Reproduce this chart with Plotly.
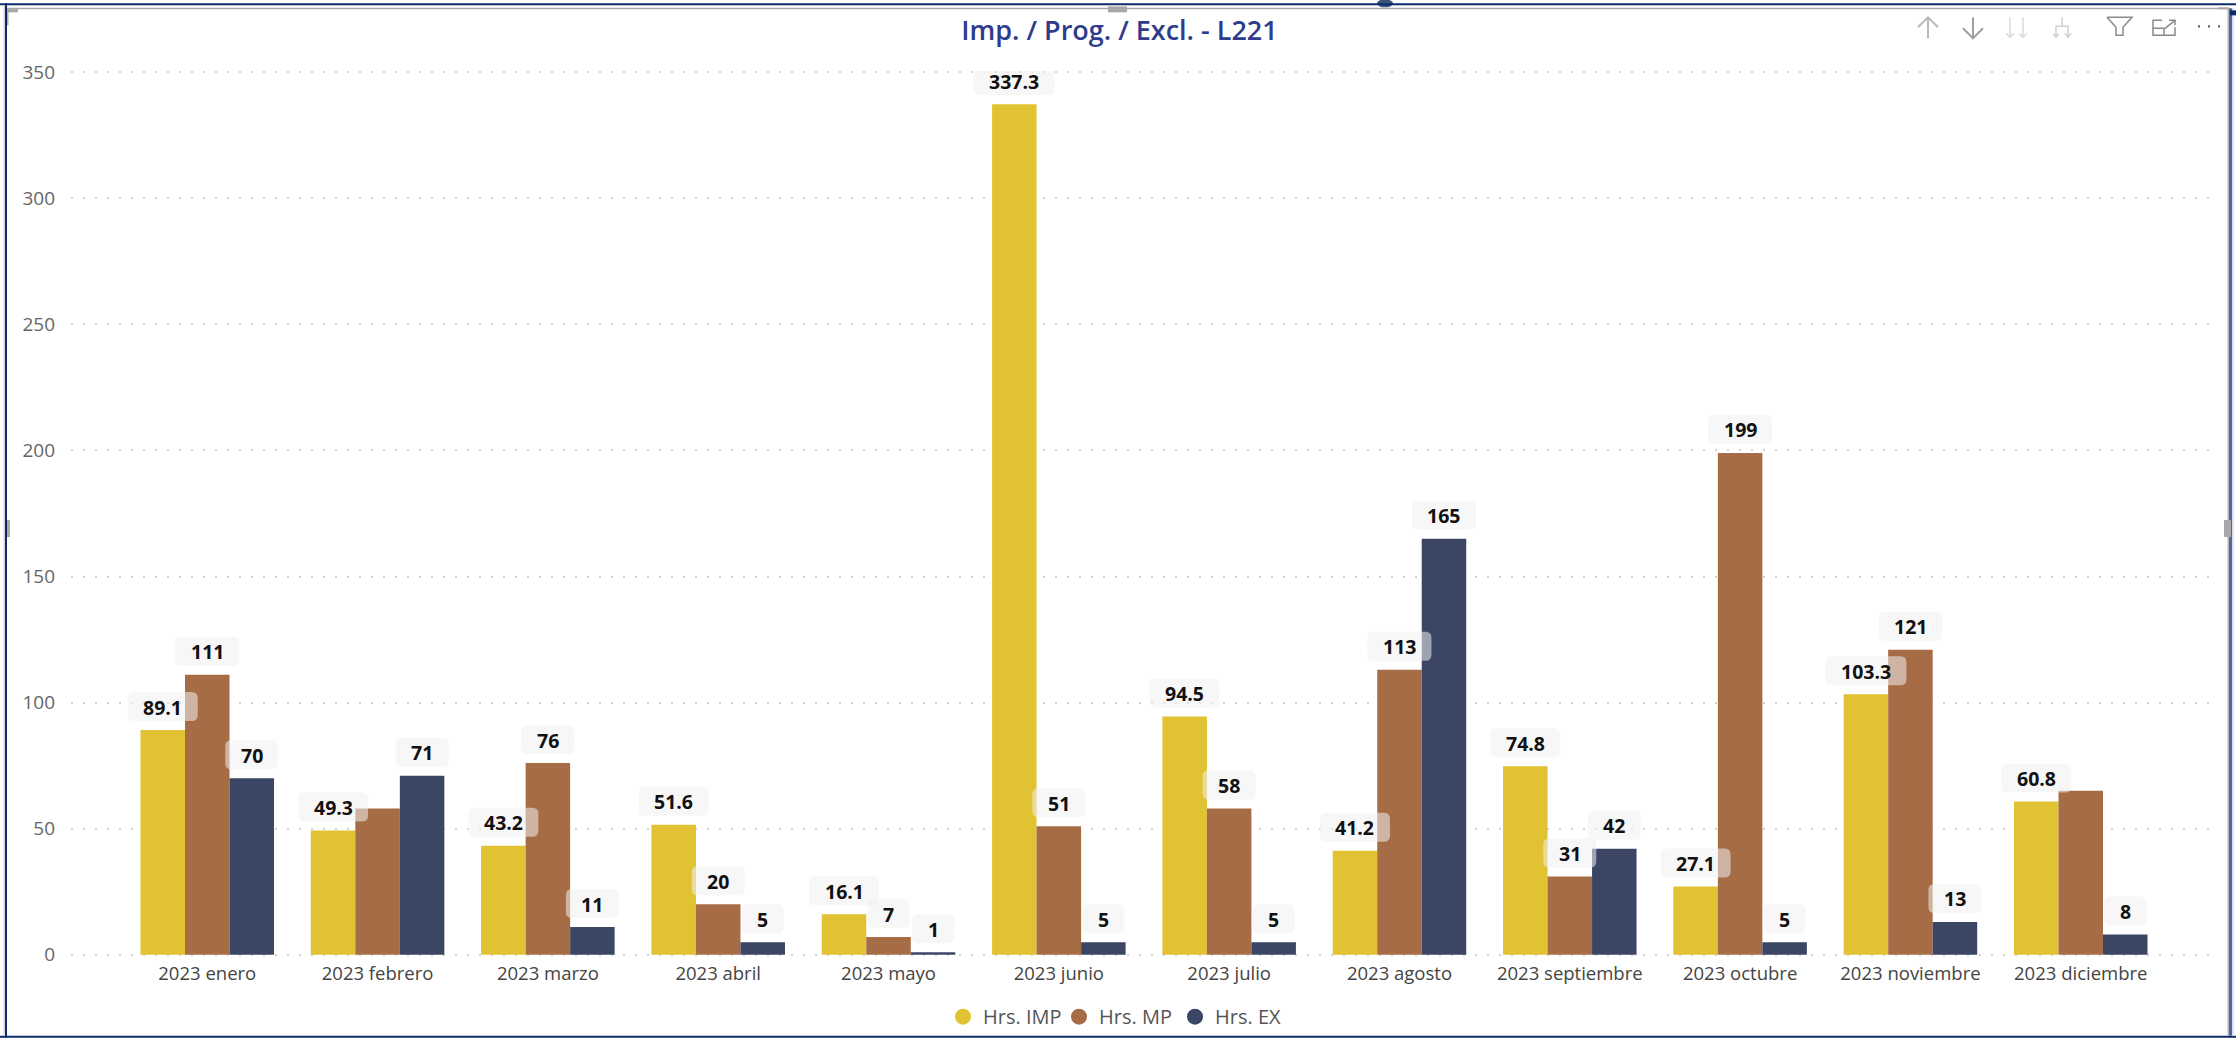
import plotly.graph_objects as go

# Monthly hours per category for line L221, 2023
months = ["2023 enero", "2023 febrero", "2023 marzo", "2023 abril", "2023 mayo", "2023 junio",
          "2023 julio", "2023 agosto", "2023 septiembre", "2023 octubre", "2023 noviembre", "2023 diciembre"]
hrs_imp = [89.1, 49.3, 43.2, 51.6, 16.1, 337.3, 94.5, 41.2, 74.8, 27.1, 103.3, 60.8]
hrs_mp = [111, 58, 76, 20, 7, 51, 58, 113, 31, 199, 121, 65]
hrs_ex = [70, 71, 11, 5, 1, 5, 5, 165, 42, 5, 13, 8]
y_ticks = [0, 50, 100, 150, 200, 250, 300, 350]

# February and December MP bars carry no data label
mp_hidden = {1, 11}

series = [("Hrs. IMP", hrs_imp, "#E0C232"), ("Hrs. MP", hrs_mp, "#A66C46"), ("Hrs. EX", hrs_ex, "#3B4665")]

W, H = 2236, 1038
# A small pad on the value axis keeps the 0 and 350 gridlines from being clipped
L, R, T, B = 71, 2217, 70.7, 956.3
Y_RANGE = [-0.5, 350.5]
BAR_GAP = 0.216
bar_w = (1 - BAR_GAP) / 3
positions = list(range(len(months)))
FONT = "Open Sans, sans-serif"


def px(x):
    return (x - L) / (R - L)


def py(y):
    return (B - y) / (B - T)


def pill(w, h=29, r=6, lift=9):
    """Rounded label plate, in pixels relative to the top of a bar."""
    a, b = -w / 2, w / 2
    y0, y1 = lift, lift + h
    return (f"M{a + r},{y0} L{b - r},{y0} Q{b},{y0} {b},{y0 + r} L{b},{y1 - r} Q{b},{y1} {b - r},{y1} "
            f"L{a + r},{y1} Q{a},{y1} {a},{y1 - r} L{a},{y0 + r} Q{a},{y0} {a + r},{y0} Z")


fig = go.Figure()
shapes, annotations = [], []

for k, (name, values, color) in enumerate(series):
    offset = (k - 1) * bar_w
    fig.add_trace(go.Bar(x=positions, y=values, name=name, marker_color=color, marker_line_width=0,
                         showlegend=False))
    fig.add_trace(go.Scatter(x=[None], y=[None], mode="markers", name=name,
                             marker=dict(color=color, size=16), showlegend=True))
    for i, v in enumerate(values):
        if name == "Hrs. MP" and i in mp_hidden:
            continue
        text = f"{v}"
        digits = sum(c.isdigit() for c in text)
        width = 31 + digits * 11 + (6 if "." in text else 0)
        shapes.append(dict(type="path", xref="x", yref="y", xsizemode="pixel", ysizemode="pixel",
                           xanchor=i + offset, yanchor=v, path=pill(width),
                           fillcolor="rgba(240,240,240,0.55)", line_width=0, layer="above"))
        annotations.append(dict(x=i + offset, y=v, text=f"<b>{text}</b>", showarrow=False, yanchor="middle",
                                yshift=23, font=dict(family=FONT, size=19.5, color="#111111")))

# Report-canvas frame and its resize handles
NAVY = "#0B2A6B"
GREY = "#A8A8A8"
frame = [(0, 3, W, 5, NAVY), (0, 1036, W, 1038, NAVY), (5, 3, 7, 1038, NAVY), (3.5, 5, 5, 1036, "#D5D5D5"),
         (2229, 8, 2232, 1036, "#5563A8"), (2227.5, 8, 2229, 1036, "#B5B5B5"), (2232, 8, 2234, 1036, "#DDE0F0"),
         (7, 7.5, 2229, 9, GREY), (7, 8, 18, 12, GREY), (7, 8, 8.5, 25, GREY), (2218, 7, 2229, 9, GREY),
         (2230, 10, 2236, 15, NAVY),
         (1108, 6, 1127, 12, GREY), (7, 520, 10, 537, GREY), (2224, 520, 2231, 537, GREY)]
for x0, y0, x1, y1, c in frame:
    shapes.append(dict(type="rect", xref="paper", yref="paper", x0=px(x0), x1=px(x1), y0=py(y0), y1=py(y1),
                       fillcolor=c, line_width=0, layer="above"))
shapes.append(dict(type="circle", xref="paper", yref="paper", x0=px(1377), x1=px(1393), y0=py(-1), y1=py(7),
                   fillcolor="#3B5578", line_width=0, layer="below"))


def icon(points, color="#B9B9B9", width=2):
    d = " ".join(("M" if n == 0 else "L") + f"{px(x):.5f},{py(y):.5f}" for n, (x, y) in enumerate(points))
    shapes.append(dict(type="path", xref="paper", yref="paper", path=d, line=dict(color=color, width=width),
                       layer="above"))


# Visual header icons
icon([(1928, 38), (1928, 17)]); icon([(1918, 27), (1928, 17), (1938, 27)])
icon([(1973, 17), (1973, 38)], "#A0A0A0"); icon([(1963, 28), (1973, 38), (1983, 28)], "#A0A0A0")
for cx in (2010, 2023):
    icon([(cx, 17), (cx, 37)], "#DADADA", 1.5); icon([(cx - 4, 33), (cx, 37), (cx + 4, 33)], "#DADADA", 1.5)
icon([(2062, 17), (2062, 26)], "#D0D0D0", 1.5); icon([(2056, 37), (2056, 26), (2068, 26), (2068, 37)], "#D0D0D0", 1.5)
icon([(2053, 33), (2056, 37), (2059, 33)], "#D0D0D0", 1.5); icon([(2065, 33), (2068, 37), (2071, 33)], "#D0D0D0", 1.5)
icon([(2107, 17), (2132, 17), (2123, 27), (2123, 35), (2116, 35), (2116, 27), (2107, 17)], "#8A8A8A", 1.5)
icon([(2162, 20), (2153, 20), (2153, 35), (2175, 35), (2175, 27)], "#8A8A8A", 1.5)
icon([(2153, 28), (2164, 28), (2164, 35)], "#8A8A8A", 1.5)
icon([(2165, 28), (2175, 20)], "#8A8A8A", 1.5); icon([(2169, 20), (2175, 20), (2175, 25)], "#8A8A8A", 1.5)
for cx in (2199, 2209, 2219):
    icon([(cx - 1, 26), (cx + 1, 26)], "#707070", 2.5)

fig.update_layout(
    width=W, height=H, autosize=False,
    margin=dict(l=L, r=W - R, t=T, b=H - B, pad=0, autoexpand=False),
    paper_bgcolor="white", plot_bgcolor="white",
    barmode="group", bargap=BAR_GAP, bargroupgap=0,
    title=dict(text="Imp. / Prog. / Excl. - L221", x=1119.5 / W, xanchor="center", y=1 - 31 / H,
               yanchor="middle", font=dict(family=FONT, size=27, weight=600, color="#2F3C8C")),
    font=dict(family=FONT, color="#555555"),
    xaxis=dict(range=[-0.8, 11.8], tickmode="array", tickvals=positions, ticktext=months, showgrid=False,
               zeroline=False, showline=False, ticks="", ticklabelstandoff=4,
               tickfont=dict(size=18.5, color="#444444"), automargin=False),
    yaxis=dict(range=Y_RANGE, tickmode="array", tickvals=y_ticks, showgrid=True, griddash="2px,10px",
               gridcolor="#D2D2D2", gridwidth=1.5, zeroline=False, showline=False, ticks="", ticklabelstandoff=15,
               tickfont=dict(size=19, color="#666666"), automargin=False),
    legend=dict(orientation="h", x=px(943), xanchor="left", y=py(1017), yanchor="middle", entrywidth=71,
                entrywidthmode="pixels", font=dict(family=FONT, size=20, color="#555555"),
                bgcolor="rgba(0,0,0,0)"),
    shapes=shapes, annotations=annotations,
)

fig.write_html("out.html", config=dict(displayModeBar=False))
